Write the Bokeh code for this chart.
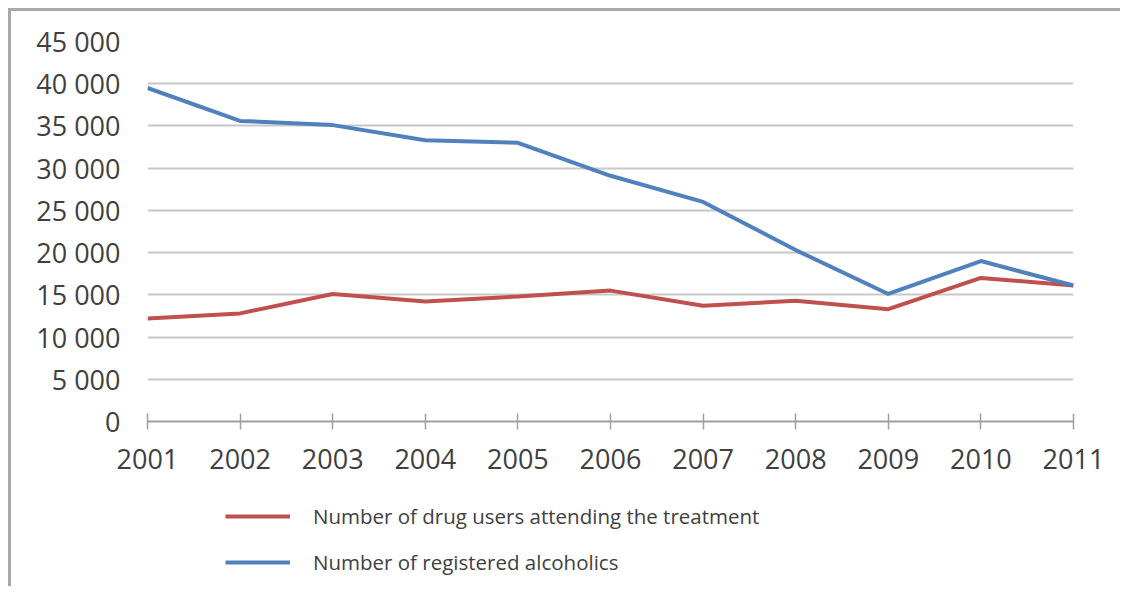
from bokeh.plotting import figure
from bokeh.layouts import column
from bokeh.models import Range1d, FixedTicker, Legend, LegendItem, CustomJSTickFormatter
from bokeh.embed import file_html
from bokeh.resources import INLINE

years = [2001, 2002, 2003, 2004, 2005, 2006, 2007, 2008, 2009, 2010, 2011]
drug_users = [12200, 12800, 15100, 14200, 14800, 15500, 13700, 14300, 13300, 17000, 16100]
alcoholics = [39500, 35600, 35100, 33300, 33000, 29100, 26000, 20300, 15100, 19000, 16100]
y_ticks = [0, 5000, 10000, 15000, 20000, 25000, 30000, 35000, 40000, 45000]
label_drug = "Number of drug users attending the treatment"
label_alc = "Number of registered alcoholics"

FONT = "Open Sans"
TXT = "#404040"
RED = "#C0504D"
BLUE = "#4F81BD"

p = figure(width=1109, height=470, output_backend="svg", toolbar_location=None,
           x_range=Range1d(2001, 2011), y_range=Range1d(0, 45000),
           min_border_left=136, min_border_right=47, min_border_top=30, min_border_bottom=60)
p.outline_line_color = None
p.background_fill_color = "white"
p.border_fill_color = "white"

p.line(years, drug_users, line_color=RED, line_width=4)
p.line(years, alcoholics, line_color=BLUE, line_width=4)

# grid
p.xgrid.grid_line_color = None
p.ygrid.ticker = FixedTicker(ticks=y_ticks)
p.ygrid.grid_line_color = "#c8c8c8"
p.ygrid.grid_line_width = 2

# y axis
p.yaxis.ticker = FixedTicker(ticks=y_ticks)
p.yaxis.formatter = CustomJSTickFormatter(code="""
    const s = Math.round(tick).toString();
    return s.replace(/\\B(?=(\\d{3})+(?!\\d))/g, ' ');
""")
p.yaxis.axis_line_color = None
p.yaxis.major_tick_line_color = None
p.yaxis.minor_tick_line_color = None
p.yaxis.major_label_standoff = 21
p.yaxis.major_label_text_font = FONT
p.yaxis.major_label_text_font_size = "27px"
p.yaxis.major_label_text_color = TXT

# x axis
p.xaxis.ticker = FixedTicker(ticks=years)
p.xaxis.axis_line_color = "#a0a0a0"
p.xaxis.axis_line_width = 2
p.xaxis.major_tick_line_color = "#a0a0a0"
p.xaxis.major_tick_line_width = 1.5
p.xaxis.major_tick_in = 8
p.xaxis.major_tick_out = 8
p.xaxis.minor_tick_line_color = None
p.xaxis.major_label_standoff = 19
p.xaxis.major_label_text_font = FONT
p.xaxis.major_label_text_font_size = "27px"
p.xaxis.major_label_text_color = TXT

# legend panel (separate figure below the chart; its series lie outside its view)
lg = figure(width=1109, height=105, output_backend="svg", toolbar_location=None,
            x_range=Range1d(0, 1), y_range=Range1d(0, 1),
            min_border_left=0, min_border_right=0, min_border_top=0, min_border_bottom=0)
lg.axis.visible = False
lg.grid.grid_line_color = None
lg.outline_line_color = None
lg.background_fill_color = "white"
lg.border_fill_color = "white"
lr_drug = lg.line(years, drug_users, line_color=RED, line_width=4)
lr_alc = lg.line(years, alcoholics, line_color=BLUE, line_width=4)

legend = Legend(items=[LegendItem(label=label_drug, renderers=[lr_drug]),
                       LegendItem(label=label_alc, renderers=[lr_alc])],
                location=(78, 10), orientation="vertical",
                glyph_width=65, glyph_height=20, label_height=20, spacing=18,
                padding=0, margin=0, label_standoff=23,
                label_text_font=FONT, label_text_font_size="20.5px", label_text_color=TXT,
                border_line_color=None, background_fill_alpha=0)
lg.add_layout(legend, "center")

layout = column(p, lg, spacing=0)
layout.styles = {"border-left": "3px solid #a8a8a8", "border-top": "3px solid #a8a8a8",
                 "margin-left": "8px", "margin-top": "8px"}

open("out.html", "w").write(file_html(layout, INLINE))
